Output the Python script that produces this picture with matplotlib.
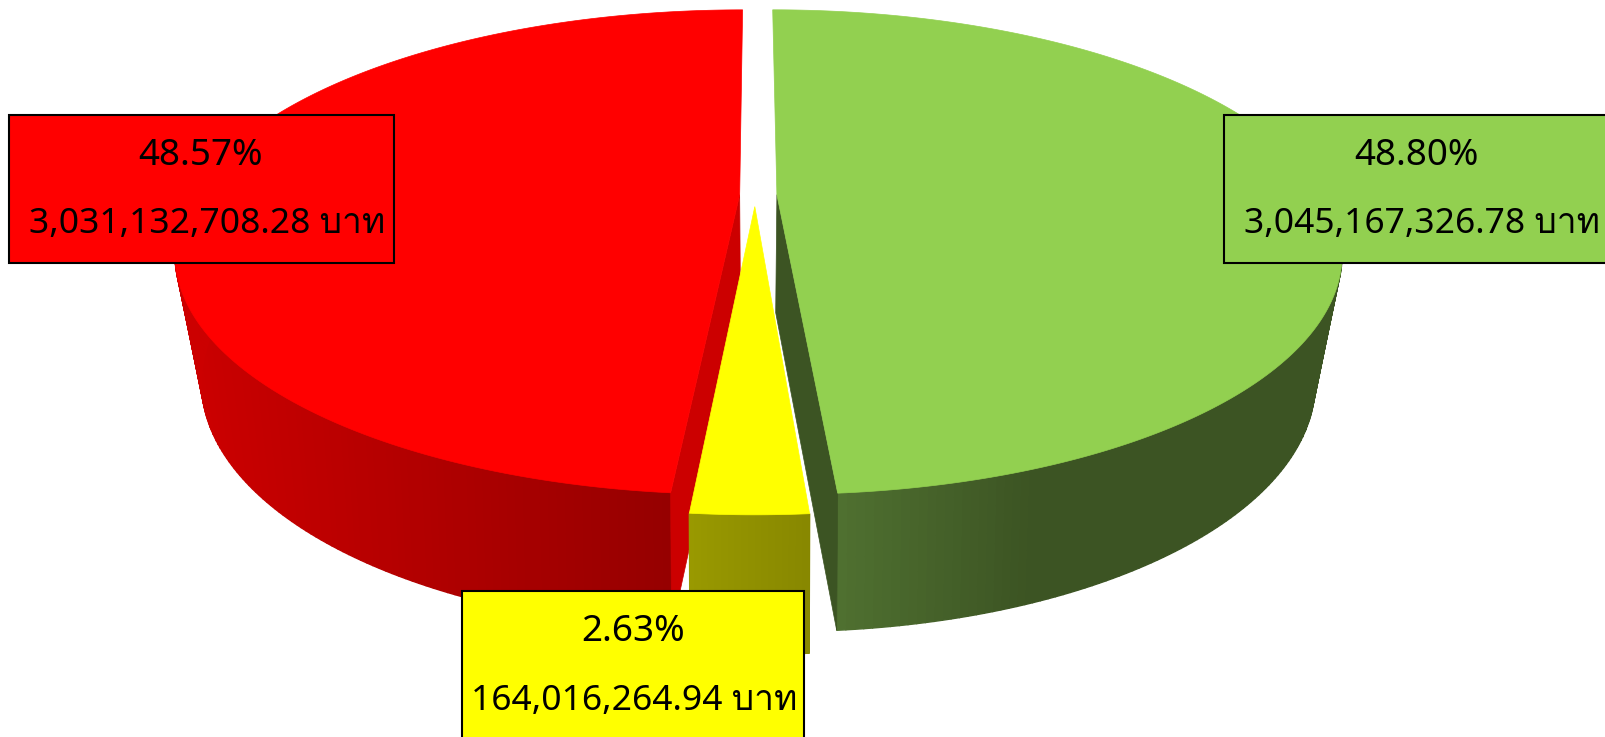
import numpy as np
import matplotlib
matplotlib.use("Agg")
import matplotlib.pyplot as plt
from matplotlib.patches import Rectangle
from matplotlib.colors import to_rgb

# ---- data
categories = ["green", "yellow", "red"]
amounts = [3045167326.78, 164016264.94, 3031132708.28]
percents = [48.80, 2.63, 48.57]
pct_labels = ["48.80%", "2.63%", "48.57%"]
amount_labels = ["3,045,167,326.78 บาท", "164,016,264.94 บาท", "3,031,132,708.28 บาท"]
explode = [0.04, 0.05, 0.028]

top_colors = ["#92d050", "#ffff00", "#ff0000"]
wall_start = ["#4f7030", "#999900", "#cc0000"]
wall_end = ["#3c5423", "#878700", "#960000"]
inner_colors = ["#3c5423", None, "#cc0000"]

W, H = 1606, 737
fig = plt.figure(figsize=(W / 100, H / 100), dpi=100)
ax = fig.add_axes([0, 0, 1, 1])
ax.set_xlim(0, W)
ax.set_ylim(H, 0)
ax.axis("off")

CX = 755
TOP = dict(y0=195, A=548, B=228.8, k=0.237)
BOT = dict(y0=313, A=518, B=233.0, k=0.27)


def project(u, v, p):
    d = 1 - p["k"] * v
    return CX + p["A"] * u / d, p["y0"] + p["B"] * v / d


shares = np.array(percents) / sum(percents)
edges = np.concatenate([[0], np.cumsum(shares)]) * 2 * np.pi
shade_span = [(840, 1030), (690, 812), (180, 665)]


def draw_slice(i, z):
    a0, a1 = edges[i], edges[i + 1]
    mid = (a0 + a1) / 2
    du, dv = explode[i] * np.sin(mid), -explode[i] * np.cos(mid)
    th = np.linspace(a0, a1, 241)
    u = np.sin(th) + du
    v = -np.cos(th) + dv
    xt, yt = project(u, v, TOP)
    xb, yb = project(u, v, BOT)
    axt, ayt = project(du, dv, TOP)
    axb, ayb = project(du, dv, BOT)

    # outer wall: strips shaded from left to right, only the part facing the viewer
    c0, c1 = np.array(to_rgb(wall_start[i])), np.array(to_rgb(wall_end[i]))
    lo, hi = shade_span[i]
    for j in range(len(th) - 1):
        if v[j] < -0.2:
            continue
        xm = (xt[j] + xt[j + 1]) / 2
        col = c0 + (c1 - c0) * np.clip((xm - lo) / (hi - lo), 0, 1)
        ax.fill([xt[j], xt[j + 1], xb[j + 1], xb[j]],
                [yt[j], yt[j + 1], yb[j + 1], yb[j]],
                facecolor=col, edgecolor=col, linewidth=1.0, zorder=z)

    # inner wall along the cut that faces the viewer
    if inner_colors[i] is not None:
        k = -1 if i == 0 else 0
        ax.fill([axt, xt[k], xb[k], axb], [ayt, yt[k], yb[k], ayb],
                facecolor=inner_colors[i], edgecolor=inner_colors[i],
                linewidth=0.5, zorder=z + 0.1)

    # top surface
    ax.fill(np.r_[axt, xt], np.r_[ayt, yt], facecolor=top_colors[i],
            edgecolor=top_colors[i], linewidth=0.5, zorder=z + 0.2)


draw_slice(2, 2)
draw_slice(0, 3)
draw_slice(1, 4)

boxes = [(1224, 115, 500, 148), (462, 591, 342, 300), (9, 115, 385, 148)]
line1 = [(1416, 156), (633, 632), (201, 156)]
line2 = [(1422, 224), (634, 701), (207, 224)]
family = ["Noto Sans", "Loma", "DejaVu Sans"]
for i in range(3):
    x, y, w, h = boxes[i]
    ax.add_patch(Rectangle((x, y), w, h, facecolor=top_colors[i], edgecolor="black",
                           linewidth=1.5, zorder=10))
    ax.text(*line1[i], pct_labels[i], ha="center", va="center", fontsize=26.5,
            family=family, zorder=11)
    ax.text(*line2[i], amount_labels[i], ha="center", va="center", fontsize=25.5,
            family=family, zorder=11)

fig.savefig("out.png", dpi=100)
